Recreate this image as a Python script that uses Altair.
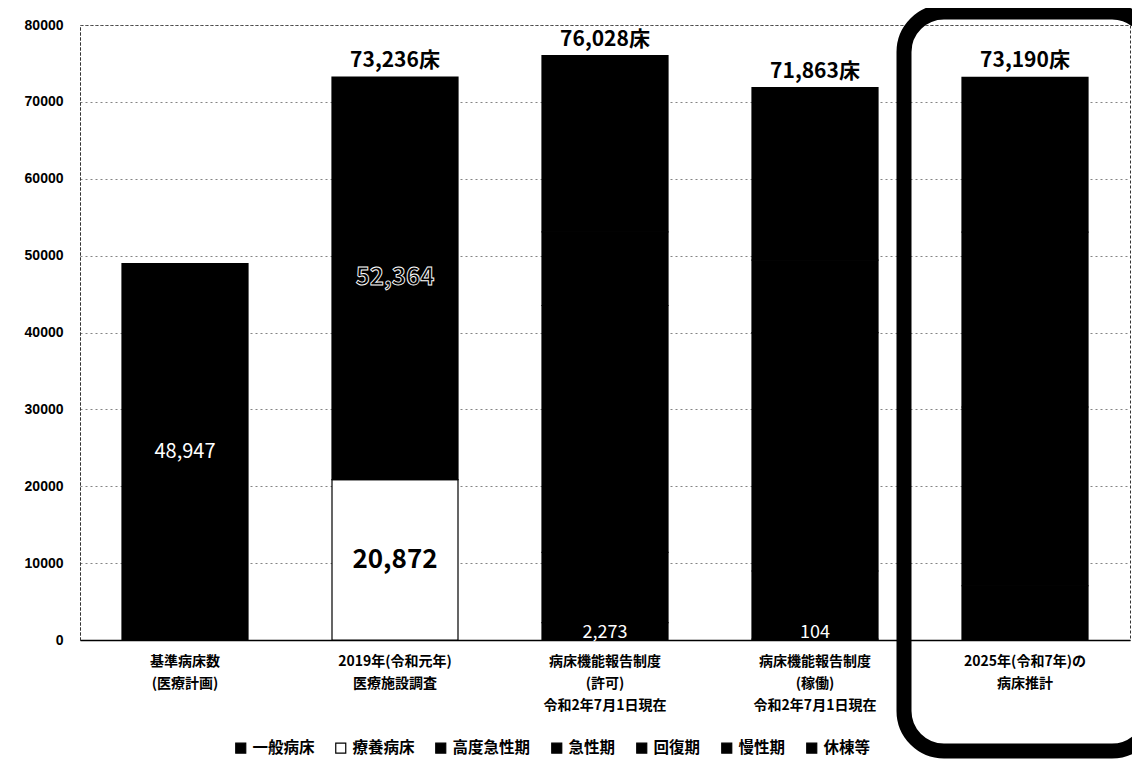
import altair as alt
import pandas as pd

# ---------------- data ----------------
categories = [
    "基準病床数\n(医療計画)",
    "2019年(令和元年)\n医療施設調査",
    "病床機能報告制度\n(許可)\n令和2年7月1日現在",
    "病床機能報告制度\n(稼働)\n令和2年7月1日現在",
    "2025年(令和7年)の\n病床推計",
]
legend_series = ["一般病床", "療養病床", "高度急性期", "急性期", "回復期", "慢性期", "休棟等"]
all_series = ["基準病床数"] + legend_series
series_colors = ["#000000", "#000000", "#ffffff", "#000000", "#000000", "#000000", "#000000", "#000000"]
stack_rank = {"休棟等": 0, "療養病床": 1, "基準病床数": 1, "一般病床": 2,
              "高度急性期": 3, "急性期": 4, "回復期": 5, "慢性期": 6}

bar_kijun = {"基準病床数": 48947}
bar_2019 = {"療養病床": 20872, "一般病床": 52364}
bar_kyoka = {"休棟等": 2273, "高度急性期": 9123, "急性期": 32118, "回復期": 9587, "慢性期": 22927}
bar_kado = {"休棟等": 104, "高度急性期": 8874, "急性期": 31012, "回復期": 9412, "慢性期": 22461}
bar_2025 = {"高度急性期": 7054, "急性期": 23253, "回復期": 22758, "慢性期": 20125}
bars = [bar_kijun, bar_2019, bar_kyoka, bar_kado, bar_2025]

totals = [None, 73236, 76028, 71863, 73190]

# segment labels: (category index, series, text, style)
seg_labels = [
    (0, "基準病床数", "48,947", "white"),
    (1, "一般病床", "52,364", "hollow"),
    (1, "療養病床", "20,872", "boldblack"),
    (2, "休棟等", "2,273", "whitesmall"),
    (3, "休棟等", "104", "whitesmall"),
]

# ---------------- tables ----------------
rows = []
for ci, bar in enumerate(bars):
    for s, v in bar.items():
        lab = ""
        style = ""
        for li, ls, lt, lst in seg_labels:
            if li == ci and ls == s:
                lab, style = lt, lst
        rows.append({"cat": categories[ci], "series": s, "value": v,
                     "rank": stack_rank[s], "label": lab, "style": style})
df = pd.DataFrame(rows)

tot_df = pd.DataFrame([{"cat": categories[i], "total": t, "text": f"{t:,}床"}
                       for i, t in enumerate(totals) if t is not None])

FONT_JP = "Noto Sans CJK JP"

x_enc = alt.X("cat:N", sort=categories, title=None,
              scale=alt.Scale(paddingInner=0.4, paddingOuter=0.2),
              axis=alt.Axis(labelAngle=0, labelExpr="split(datum.label, '\\n')",
                            labelFont=FONT_JP, labelFontWeight="bold", labelFontSize=14,
                            labelLineHeight=22, labelPadding=14, ticks=False,
                            labelColor="#000", domainColor="#000", domainWidth=1.5,
                            labelLimit=300))
y_scale = alt.Scale(domain=[0, 80000], nice=False)

base = alt.Chart(df)

bars_layer = base.mark_bar(stroke="#000", strokeWidth=1.2).encode(
    x=x_enc,
    y=alt.Y("sum(value):Q", scale=y_scale, title=None, stack="zero",
            axis=alt.Axis(values=list(range(0, 80001, 10000)), format="d", ticks=False,
                          labelFont="Liberation Sans", labelFontWeight="bold", labelFontSize=14,
                          labelColor="#000", labelPadding=17,
                          grid=True, gridColor="#666", gridDash=[2, 3], gridWidth=0.8,
                          domainColor="#333", domainDash=[3, 2], domainWidth=1)),
    color=alt.Color("series:N", scale=alt.Scale(domain=all_series, range=series_colors),
                    legend=alt.Legend(values=legend_series, title=None, orient="none",
                                      legendX=153, legendY=715, direction="horizontal",
                                      columns=7, columnPadding=18, symbolType="square",
                                      symbolSize=100, symbolStrokeColor="#000",
                                      symbolStrokeWidth=1.2, labelFont=FONT_JP,
                                      labelFontWeight="bold", labelFontSize=15.5,
                                      labelColor="#000", labelOffset=4)),
    order=alt.Order("rank:Q", sort="ascending"),
)

stacked = base.transform_stack(
    stack="value", groupby=["cat"], as_=["v0", "v1"], sort=[alt.SortField("rank", "ascending")]
).transform_calculate(mid="(datum.v0 + datum.v1) / 2").transform_filter("datum.label != ''")

lab_white = stacked.transform_filter("datum.style == 'white'").mark_text(
    font=FONT_JP, fontSize=20, color="#fff").encode(
    x=alt.X("cat:N", sort=categories), y=alt.Y("mid:Q", scale=y_scale), text="label:N")
lab_white_small = stacked.transform_filter("datum.style == 'whitesmall'").mark_text(
    font=FONT_JP, fontSize=18, color="#fff", baseline="bottom", dy=0).encode(
    x=alt.X("cat:N", sort=categories), y=alt.value(617), text="label:N")
lab_hollow = stacked.transform_filter("datum.style == 'hollow'").mark_text(
    font=FONT_JP, fontSize=24, fontWeight="bold", fill="#000", stroke="#fff",
    strokeWidth=0.9).encode(
    x=alt.X("cat:N", sort=categories), y=alt.Y("mid:Q", scale=y_scale), text="label:N")
lab_bold = stacked.transform_filter("datum.style == 'boldblack'").mark_text(
    font=FONT_JP, fontSize=26, fontWeight="bold", color="#000").encode(
    x=alt.X("cat:N", sort=categories), y=alt.Y("mid:Q", scale=y_scale), text="label:N")

tot_layer = alt.Chart(tot_df).mark_text(
    font=FONT_JP, fontSize=21, fontWeight="bold", color="#000", baseline="bottom", dy=-6).encode(
    x=alt.X("cat:N", sort=categories), y=alt.Y("total:Q", scale=y_scale), text="text:N")

# rounded highlight frame around the 2025 column
frame = alt.Chart(pd.DataFrame({"k": [0]})).mark_rect(
    fillOpacity=0, stroke="#000", strokeWidth=15, cornerRadius=40).encode(
    x=alt.value(824), x2=alt.value(1072), y=alt.value(-13), y2=alt.value(726))

chart = alt.layer(
    bars_layer, lab_white, lab_white_small, lab_hollow, lab_bold, tot_layer, frame
).properties(
    width=1050, height=615,
    autosize=alt.AutoSizeParams(type="none"),
    padding={"left": 72, "top": 17, "right": 2, "bottom": 120},
    background="#ffffff",
).configure_view(stroke="#333", strokeDash=[3, 2], strokeWidth=1)

chart.save("out.html", embed_options={"renderer": "svg", "actions": False})
